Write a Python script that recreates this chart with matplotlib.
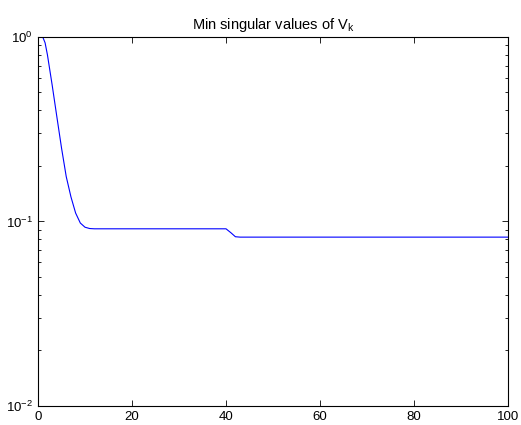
import matplotlib
matplotlib.use('Agg')
import matplotlib.pyplot as plt

# values
iters = [1, 1.5, 2, 3, 4, 5, 6, 7, 8, 9, 10, 11, 12, 40, 41, 42, 43, 100]
min_sv = [1.0, 0.93, 0.8, 0.55, 0.37, 0.25, 0.175, 0.136, 0.111, 0.098, 0.093,
          0.0915, 0.0912, 0.0912, 0.087, 0.0826, 0.0822, 0.0822]
xticks = [0, 20, 40, 60, 80, 100]

plt.rcParams['font.family'] = ['Liberation Sans', 'DejaVu Sans']
plt.rcParams['mathtext.default'] = 'regular'
plt.rcParams['font.size'] = 9.5

fig = plt.figure(figsize=(5.21, 4.25), dpi=100)
ax = fig.add_axes([0.073, 0.045, 0.902, 0.868])
ax.plot(iters, min_sv, color='#0000ff', lw=0.8)
ax.set_yscale('log')
ax.set_xlim(0, 100)
ax.set_ylim(1e-2, 1e0)
ax.set_xticks(xticks)
ax.tick_params(which='both', direction='in', top=True, right=True, width=0.6)
ax.tick_params(which='major', length=4)
ax.tick_params(which='minor', length=2)
for s in ax.spines.values():
    s.set_linewidth(0.8)
ax.set_title('Min singular values of V$_k$', fontsize=10.5, pad=6)

plt.savefig('out.png', dpi=100)
